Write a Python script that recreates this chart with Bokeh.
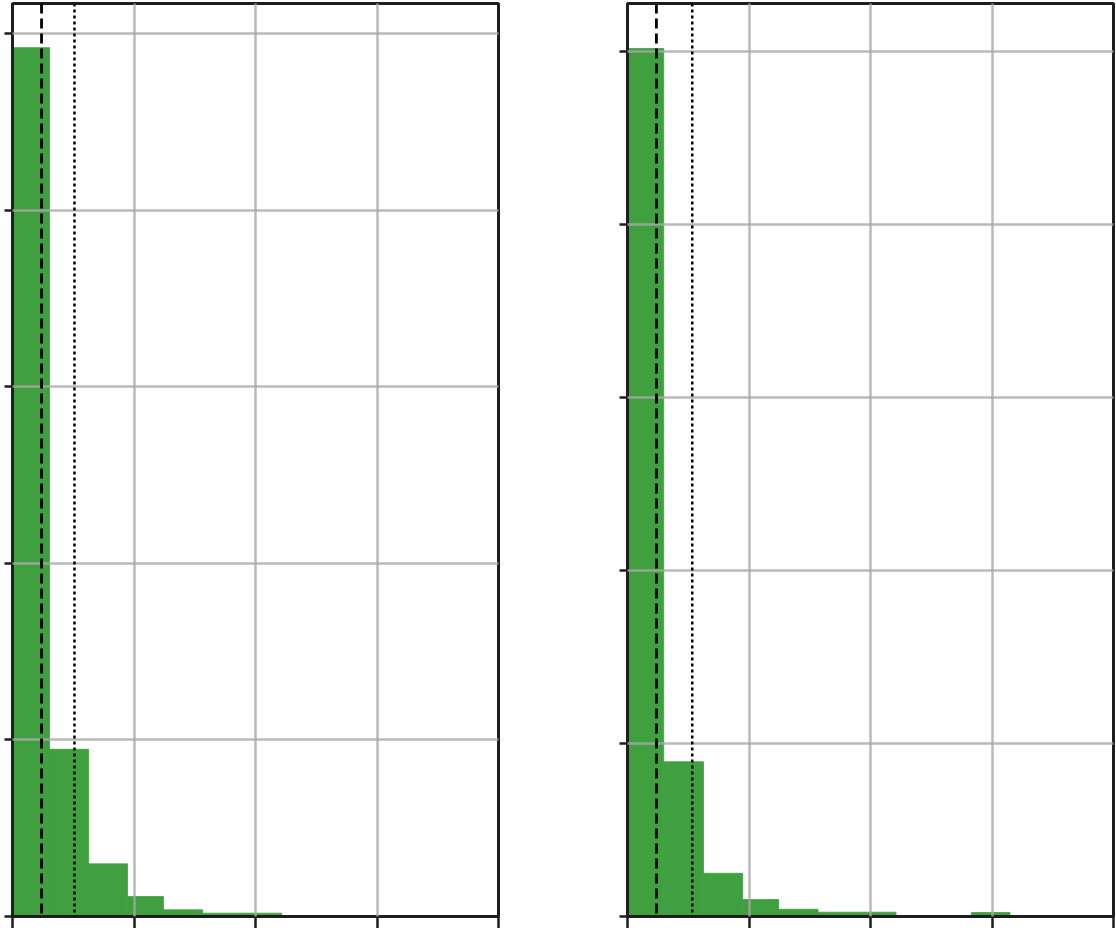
from bokeh.plotting import figure
from bokeh.layouts import row
from bokeh.models import Span, Range1d, FixedTicker
from bokeh.embed import file_html
from bokeh.resources import INLINE

# ---- data ----
left_edges = [0.0, 0.305, 0.626, 0.947, 1.243, 1.564, 1.893, 2.214]
left_counts = [4.92, 0.947, 0.298, 0.113, 0.038, 0.019, 0.019]
left_dashed = 0.239
left_dotted = 0.51

right_edges = [0.0, 0.298, 0.626, 0.948, 1.243, 1.568, 1.89, 2.21, 2.52, 2.83, 3.148]
right_counts = [5.02, 0.895, 0.25, 0.098, 0.042, 0.025, 0.025, 0.0, 0.0, 0.023]
right_dashed = 0.238
right_dotted = 0.533

x_ticks = [0, 1, 2, 3, 4]
y_ticks = [0, 1, 2, 3, 4, 5]

BAR = "#40a040"
INK = "#1e1e1e"


def make_panel(edges, counts, dashed, dotted, ytop, border_left, border_right):
    p = figure(frame_width=486, frame_height=913,
               x_range=Range1d(0, 4), y_range=Range1d(0, ytop),
               output_backend="svg", toolbar_location=None,
               min_border_left=border_left, min_border_top=3, min_border_bottom=0,
               min_border_right=border_right)
    p.quad(left=edges[:-1], right=edges[1:], top=counts, bottom=0,
           fill_color=BAR, line_color=BAR, line_width=0.8)
    p.add_layout(Span(location=dashed, dimension="height", line_color="black",
                      line_width=2.8, line_dash="10 5"))
    p.add_layout(Span(location=dotted, dimension="height", line_color="black",
                      line_width=2.5, line_dash="3 3"))
    p.xaxis.ticker = FixedTicker(ticks=x_ticks)
    p.yaxis.ticker = FixedTicker(ticks=y_ticks)
    p.xaxis.major_label_overrides = {t: "" for t in x_ticks}
    p.yaxis.major_label_overrides = {t: "" for t in y_ticks}
    p.axis.major_label_standoff = 0
    p.axis.minor_tick_line_color = None
    p.axis.major_tick_in = 0
    p.xaxis.major_tick_out = 12
    p.yaxis.major_tick_out = 8
    p.axis.major_tick_line_color = INK
    p.axis.major_tick_line_width = 2.5
    p.axis.axis_line_color = INK
    p.axis.axis_line_width = 3
    p.outline_line_color = INK
    p.outline_line_width = 3
    p.outline_line_alpha = 1
    p.grid.grid_line_color = "#a8a8a8"
    p.grid.grid_line_alpha = 0.8
    p.grid.grid_line_width = 2.5
    p.grid.level = "guide"
    p.background_fill_color = "white"
    p.border_fill_color = "white"
    return p


p1 = make_panel(left_edges, left_counts, left_dashed, left_dotted, 5.17, 12, 121)
p2 = make_panel(right_edges, right_counts, right_dashed, right_dotted, 5.28, 0, 3)

layout = row(p1, p2)
open("out.html", "w").write(file_html(layout, INLINE))
